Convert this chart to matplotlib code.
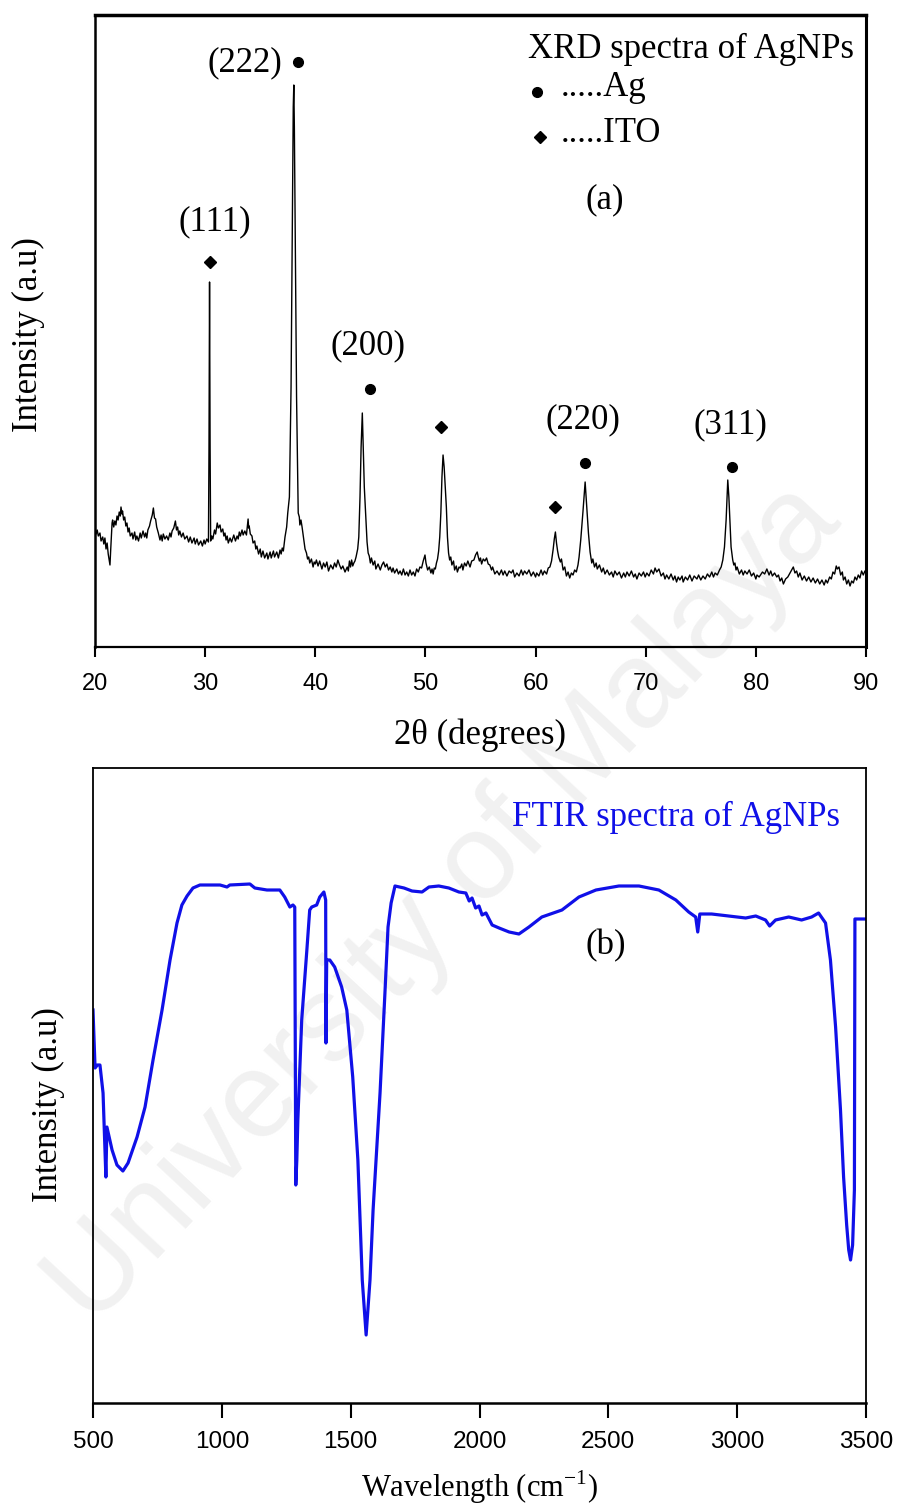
import numpy as np
import matplotlib
matplotlib.use("Agg")
import matplotlib.pyplot as plt

# ---- XRD scan (2theta, intensity a.u.), baseline wiggles included
xrd_scan = [
    (20.0, 119), (20.1, 113), (20.2, 117), (20.3, 111), (20.45, 114), (20.55, 106), (20.7, 110),
    (20.8, 103), (20.9, 109), (21.0, 98), (21.1, 104), (21.2, 93), (21.3, 86), (21.36, 82),
    (21.42, 96), (21.5, 112), (21.55, 124), (21.6, 127), (21.7, 120), (21.8, 126), (21.9, 122),
    (22.0, 131), (22.1, 127), (22.2, 135), (22.3, 131), (22.36, 140), (22.45, 133), (22.5, 136),
    (22.6, 127), (22.7, 130), (22.8, 121), (22.9, 124), (23.0, 115), (23.1, 119), (23.2, 111),
    (23.36, 114), (23.45, 108), (23.6, 115), (23.7, 107), (23.8, 111), (23.95, 106), (24.1, 114),
    (24.2, 109), (24.36, 116), (24.5, 110), (24.6, 114), (24.7, 109), (24.8, 117), (24.95, 121),
    (25.05, 126), (25.2, 132), (25.3, 139), (25.4, 129), (25.5, 128), (25.6, 120), (25.75, 114),
    (25.9, 107), (26.0, 112), (26.1, 106), (26.2, 113), (26.35, 108), (26.5, 111), (26.65, 107),
    (26.8, 114), (26.9, 110), (27.0, 116), (27.15, 119), (27.3, 126), (27.4, 117), (27.5, 120),
    (27.6, 112), (27.7, 116), (27.85, 110), (28.0, 114), (28.15, 108), (28.35, 111), (28.5, 105),
    (28.65, 110), (28.8, 104), (29.0, 109), (29.1, 103), (29.26, 108), (29.4, 102), (29.6, 106),
    (29.75, 101), (29.9, 107), (30.0, 103), (30.15, 108), (30.3, 105), (30.35, 200), (30.4, 365),
    (30.45, 200), (30.5, 106), (30.6, 111), (30.7, 108), (30.85, 117), (30.95, 113), (31.1, 124),
    (31.2, 119), (31.35, 122), (31.45, 115), (31.6, 118), (31.7, 111), (31.8, 114), (31.9, 107),
    (32.0, 111), (32.1, 104), (32.26, 109), (32.4, 105), (32.6, 112), (32.75, 106), (32.9, 111),
    (33.0, 108), (33.1, 115), (33.2, 111), (33.35, 117), (33.45, 112), (33.6, 116), (33.75, 112),
    (33.9, 128), (33.95, 119), (34.0, 121), (34.1, 113), (34.25, 111), (34.35, 104), (34.5, 106),
    (34.6, 98), (34.7, 101), (34.85, 93), (35.0, 98), (35.1, 90), (35.25, 96), (35.4, 89),
    (35.6, 94), (35.7, 88), (35.9, 95), (36.0, 89), (36.2, 96), (36.3, 90), (36.5, 95),
    (36.65, 89), (36.8, 97), (36.9, 93), (37.0, 99), (37.1, 96), (37.25, 110), (37.4, 120),
    (37.5, 134), (37.65, 150), (37.8, 260), (37.9, 400), (38.0, 540), (38.05, 562), (38.1, 520),
    (38.2, 380), (38.3, 250), (38.45, 134), (38.55, 130), (38.6, 122), (38.7, 127), (38.8, 120),
    (38.95, 108), (39.07, 98), (39.2, 94), (39.3, 88), (39.4, 90), (39.5, 84), (39.65, 88),
    (39.8, 80), (39.9, 85), (40.0, 83), (40.1, 87), (40.25, 81), (40.4, 86), (40.6, 78),
    (40.75, 84), (40.9, 80), (41.05, 85), (41.2, 76), (41.4, 82), (41.6, 78), (41.75, 84),
    (41.9, 80), (42.05, 87), (42.2, 82), (42.35, 78), (42.5, 81), (42.7, 75), (42.9, 80),
    (43.0, 76), (43.1, 86), (43.2, 80), (43.3, 87), (43.4, 81), (43.5, 84), (43.6, 86),
    (43.7, 90), (43.85, 98), (43.95, 110), (44.06, 150), (44.16, 200), (44.27, 234), (44.35, 200),
    (44.45, 160), (44.6, 127), (44.7, 105), (44.8, 94), (44.9, 91), (45.0, 84), (45.1, 89),
    (45.25, 82), (45.4, 86), (45.5, 78), (45.7, 83), (45.9, 77), (46.05, 82), (46.2, 85),
    (46.35, 80), (46.5, 83), (46.65, 77), (46.8, 80), (46.95, 75), (47.06, 79), (47.2, 74),
    (47.4, 78), (47.55, 73), (47.7, 76), (47.85, 72), (48.0, 78), (48.15, 72), (48.3, 75),
    (48.45, 71), (48.6, 77), (48.75, 72), (48.9, 75), (49.05, 71), (49.2, 78), (49.35, 75),
    (49.5, 80), (49.65, 79), (49.8, 86), (49.96, 92), (50.05, 84), (50.2, 77), (50.35, 80),
    (50.5, 74), (50.6, 78), (50.7, 73), (50.8, 79), (50.9, 78), (51.0, 84), (51.1, 88),
    (51.2, 96), (51.3, 110), (51.4, 134), (51.5, 170), (51.6, 192), (51.7, 180), (51.8, 160),
    (51.9, 140), (52.0, 110), (52.1, 94), (52.2, 87), (52.3, 90), (52.4, 82), (52.55, 86),
    (52.65, 77), (52.8, 81), (52.9, 75), (53.05, 80), (53.15, 79), (53.3, 83), (53.4, 77),
    (53.55, 84), (53.7, 81), (53.85, 86), (54.05, 80), (54.2, 86), (54.4, 87), (54.55, 92),
    (54.7, 95), (54.8, 90), (54.9, 86), (55.0, 89), (55.1, 83), (55.25, 88), (55.4, 86),
    (55.55, 89), (55.7, 83), (55.85, 82), (56.0, 77), (56.1, 80), (56.3, 73), (56.5, 76),
    (56.7, 72), (56.9, 77), (57.05, 72), (57.2, 76), (57.4, 71), (57.6, 76), (57.8, 74),
    (57.95, 77), (58.1, 70), (58.3, 74), (58.5, 71), (58.7, 77), (58.85, 72), (59.0, 76),
    (59.2, 73), (59.4, 77), (59.6, 71), (59.8, 75), (60.0, 70), (60.1, 74), (60.3, 71),
    (60.5, 77), (60.65, 72), (60.8, 76), (61.0, 73), (61.15, 79), (61.3, 80), (61.45, 86),
    (61.6, 98), (61.7, 108), (61.8, 115), (61.9, 104), (62.0, 96), (62.1, 90), (62.25, 85),
    (62.35, 88), (62.5, 77), (62.65, 80), (62.8, 71), (62.95, 75), (63.1, 69), (63.25, 74),
    (63.4, 72), (63.55, 77), (63.7, 75), (63.85, 82), (63.95, 90), (64.1, 107), (64.3, 135),
    (64.5, 165), (64.65, 140), (64.8, 114), (64.95, 95), (65.1, 84), (65.2, 88), (65.35, 80),
    (65.5, 84), (65.6, 78), (65.8, 82), (66.0, 75), (66.15, 79), (66.3, 73), (66.5, 77),
    (66.7, 72), (66.9, 75), (67.05, 70), (67.2, 76), (67.4, 72), (67.6, 75), (67.8, 69),
    (68.0, 74), (68.15, 70), (68.3, 75), (68.5, 71), (68.7, 76), (68.9, 70), (69.05, 73),
    (69.2, 68), (69.4, 74), (69.6, 71), (69.8, 75), (69.95, 70), (70.1, 74), (70.3, 71),
    (70.5, 77), (70.7, 73), (70.85, 79), (71.0, 75), (71.2, 78), (71.4, 71), (71.6, 74),
    (71.75, 68), (71.9, 72), (72.1, 68), (72.3, 73), (72.5, 67), (72.65, 71), (72.8, 65),
    (72.95, 70), (73.1, 67), (73.3, 71), (73.4, 65), (73.6, 70), (73.8, 67), (74.0, 72),
    (74.2, 66), (74.4, 71), (74.65, 68), (74.8, 72), (75.0, 67), (75.2, 71), (75.4, 68),
    (75.6, 73), (75.8, 70), (76.0, 75), (76.15, 70), (76.3, 74), (76.5, 72), (76.7, 77),
    (76.85, 80), (77.0, 87), (77.15, 100), (77.3, 127), (77.45, 167), (77.55, 150), (77.65, 125),
    (77.75, 100), (77.9, 87), (78.0, 82), (78.1, 84), (78.2, 77), (78.3, 80), (78.5, 73),
    (78.7, 77), (78.85, 72), (79.0, 76), (79.2, 73), (79.4, 77), (79.6, 71), (79.8, 74),
    (80.0, 68), (80.1, 72), (80.3, 70), (80.6, 75), (80.8, 73), (81.0, 78), (81.2, 72),
    (81.35, 76), (81.5, 71), (81.7, 74), (81.9, 70), (82.05, 72), (82.2, 66), (82.35, 69),
    (82.5, 63), (82.7, 68), (82.9, 70), (83.1, 74), (83.25, 77), (83.4, 80), (83.55, 74),
    (83.7, 76), (83.85, 70), (84.0, 74), (84.2, 67), (84.4, 71), (84.6, 66), (84.8, 70),
    (85.0, 65), (85.2, 69), (85.4, 64), (85.6, 68), (85.8, 63), (86.0, 67), (86.2, 62),
    (86.35, 67), (86.5, 64), (86.7, 70), (86.85, 68), (87.0, 75), (87.15, 73), (87.3, 81),
    (87.4, 78), (87.55, 80), (87.7, 72), (87.85, 75), (87.95, 67), (88.1, 70), (88.25, 63),
    (88.4, 67), (88.55, 61), (88.7, 66), (88.85, 64), (89.0, 70), (89.15, 67), (89.3, 72),
    (89.45, 69), (89.6, 76), (89.75, 72), (89.9, 76), (90.0, 73),
]
xrd_2theta = [p[0] for p in xrd_scan]
xrd_int = [p[1] for p in xrd_scan]

# peak markers and labels
ag_2theta = [38.43, 44.97, 64.5, 77.8]
ag_int = [585, 258, 184, 180]
ito_2theta = [30.44, 51.41, 61.77]
ito_int = [385, 220, 140]
hkl_labels = ["(111)", "(222)", "(200)", "(220)", "(311)"]
hkl_x = [30.9, 33.62, 44.8, 64.3, 77.65]
hkl_y = [425, 584, 301, 227, 222]

# ---- FTIR data (wavenumber, intensity a.u.)
ftir_wn = [500, 508, 517, 527, 539, 550, 554, 574, 593, 616, 636, 671, 702, 733, 768, 799, 826,
           845, 865, 888, 915, 993, 1020, 1031, 1109, 1128, 1175, 1225, 1244, 1264, 1276, 1283,
           1287, 1291, 1295, 1310, 1330, 1341, 1349, 1368, 1380, 1396, 1403, 1404, 1407, 1419,
           1438, 1465, 1485, 1508, 1528, 1545, 1560, 1575, 1587, 1614, 1633, 1645, 1657, 1672,
           1707, 1738, 1777, 1804, 1842, 1881, 1920, 1947, 1960, 1971, 1985, 1998, 2010, 2025,
           2049, 2076, 2115, 2153, 2192, 2242, 2320, 2386, 2452, 2541, 2619, 2696, 2762, 2812,
           2839, 2847, 2855, 2901, 2967, 3033, 3072, 3110, 3126, 3149, 3200, 3250, 3289, 3316,
           3343, 3362, 3382, 3401, 3413, 3425, 3433, 3440, 3448, 3455, 3457, 3500]
ftir_int = [393, 335, 338, 338, 310, 226, 276, 253, 238, 232, 240, 266, 296, 343, 393, 443, 480,
            498, 507, 515, 518, 518, 516, 518, 519, 515, 513, 513, 506, 496, 498, 496,
            218, 243, 283, 383, 453, 493, 496, 498, 506, 511, 503, 360, 443, 443,
            436, 416, 393, 326, 243, 123, 68, 123, 193, 310, 410, 476, 500, 517,
            515, 512, 511, 516, 517, 515, 511, 510, 502, 505, 495, 497, 488, 490,
            478, 475, 471, 469, 476, 486, 493, 506, 513, 517, 517, 513, 503, 491,
            486, 471, 489, 489, 487, 485, 487, 483, 477, 483, 486, 483, 486, 490,
            480, 443, 376, 293, 226, 178, 153, 143, 158, 213, 484, 484]

W, H = 897, 1508
fig = plt.figure(figsize=(W / 100, H / 100), dpi=100)


def fx(x):
    return x / W


def fy(y):
    return 1 - y / H


serif = "Liberation Serif"
sans = "Liberation Sans"
fs = 25

# faint watermark behind everything
fig.text(fx(445), fy(905), "University of Malaya", rotation=47, fontsize=88,
         family=sans, color="#f1f1f1", ha="center", va="center", zorder=-5)

# ---------------- XRD panel
ax1 = fig.add_axes([fx(95), fy(647), fx(866) - fx(95), fy(15) - fy(647)])
ax1.set_facecolor("none")
ax1.plot(xrd_2theta, xrd_int, color="black", lw=1.0)
ax1.plot(ag_2theta, ag_int, "o", color="black", ms=7)
ax1.plot(ito_2theta, ito_int, "D", color="black", ms=6.5)
for lab, x, y in zip(hkl_labels, hkl_x, hkl_y):
    ax1.text(x, y, lab, family=serif, fontsize=fs, ha="center", va="center")
ax1.text(0.773, 0.945, "XRD spectra of AgNPs", transform=ax1.transAxes, family=serif,
         fontsize=fs, ha="center", va="center")
ax1.plot([60.13], [555], "o", color="black", ms=7)
ax1.plot([60.4], [510], "D", color="black", ms=6.5)
ax1.text(62.3, 559, ".....Ag", family=serif, fontsize=fs, ha="left", va="center")
ax1.text(62.3, 514, ".....ITO", family=serif, fontsize=fs, ha="left", va="center")
ax1.text(66.3, 447, "(a)", family=serif, fontsize=fs, ha="center", va="center")
ax1.set_xlim(20, 90)
ax1.set_ylim(0, 632)
ax1.set_xticks(np.arange(20, 91, 10))
ax1.set_yticks([])
ax1.tick_params(axis="x", direction="out", length=7, width=1.5, pad=12, labelsize=17)
for lab in ax1.get_xticklabels():
    lab.set_family(sans)
for side, lw in [("top", 2.5), ("bottom", 1.6), ("left", 1.8), ("right", 2.2)]:
    ax1.spines[side].set_linewidth(lw)
fig.text(fx(480), fy(735), "2θ (degrees)", family=serif, fontsize=fs, ha="center", va="center")
fig.text(fx(28), fy(335), "Intensity (a.u)", family=serif, fontsize=fs, rotation=90,
         ha="center", va="center")

# ---------------- FTIR panel
ax2 = fig.add_axes([fx(93), fy(1403), fx(866) - fx(93), fy(768) - fy(1403)])
ax2.set_facecolor("none")
ax2.plot(ftir_wn, ftir_int, color="#1010e8", lw=2.3)
ax2.text(2763, 586, "FTIR spectra of AgNPs", color="#1010e8", family=serif, fontsize=fs,
         ha="center", va="center")
ax2.text(2491, 457, "(b)", family=serif, fontsize=fs, ha="center", va="center")
ax2.set_xlim(500, 3500)
ax2.set_ylim(0, 635)
ax2.set_xticks(np.arange(500, 3501, 500))
ax2.set_yticks([])
ax2.tick_params(axis="x", direction="out", length=11, width=1.5, pad=9, labelsize=17.5)
for lab in ax2.get_xticklabels():
    lab.set_family(sans)
for side in ["top", "left", "right"]:
    ax2.spines[side].set_linewidth(1.3)
ax2.spines["bottom"].set_linewidth(1.8)
fig.text(fx(480), fy(1487), "Wavelength (cm$^{\\mathregular{-1}}$)", family=serif, fontsize=22,
         ha="center", va="center")
fig.text(fx(48), fy(1105), "Intensity (a.u)", family=serif, fontsize=fs, rotation=90,
         ha="center", va="center")

fig.savefig("out.png", dpi=100)
